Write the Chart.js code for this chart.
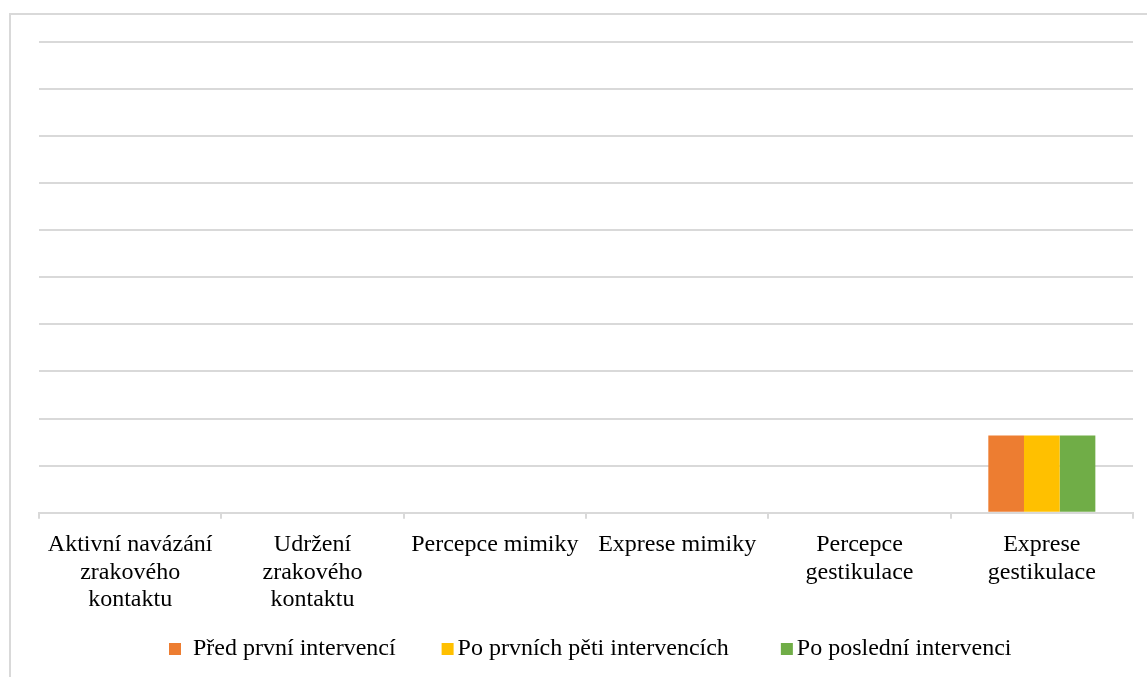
<!DOCTYPE html>
<html>
<head>
<meta charset="utf-8">
<script src="https://cdn.jsdelivr.net/npm/chart.js@4.4.1/dist/chart.umd.min.js"></script>
<style>
  html, body { margin: 0; padding: 0; background: #fff; }
  #wrap { width: 1147px; height: 677px; position: relative; }
</style>
</head>
<body>
<div id="wrap"><canvas id="c" width="1147" height="677"></canvas></div>
<script>
// Categories (multi-line labels)
const categories = [
  ['Aktivní navázání', 'zrakového', 'kontaktu'],
  ['Udržení', 'zrakového', 'kontaktu'],
  'Percepce mimiky',
  'Exprese mimiky',
  ['Percepce', 'gestikulace'],
  ['Exprese', 'gestikulace']
];

// Series names
const seriesNames = ['Před první intervencí', 'Po prvních pěti intervencích', 'Po poslední intervenci'];

// Series values
const beforeFirst = [0, 0, 0, 0, 0, 1.64];
const afterFirstFive = [0, 0, 0, 0, 0, 1.64];
const afterLast = [0, 0, 0, 0, 0, 1.64];

// Value axis
const yMax = 10;
const yStep = 1;

const colors = ['#ED7D31', '#FFC000', '#70AD47'];
const textFont = '"Liberation Serif", "Times New Roman", serif';

// Outer frame of the chart object
const framePlugin = {
  id: 'frame',
  beforeDraw(chart) {
    const ctx = chart.ctx;
    ctx.save();
    ctx.fillStyle = '#ffffff';
    ctx.fillRect(0, 0, chart.width, chart.height);
    ctx.strokeStyle = '#d9d9d9';
    ctx.lineWidth = 2;
    ctx.strokeRect(10, 14, chart.width + 50, chart.height + 50);
    ctx.restore();
  }
};

// Legend row under the axis labels
const legendPlugin = {
  id: 'legendRow',
  afterDraw(chart) {
    const ctx = chart.ctx;
    ctx.save();
    ctx.font = '24px ' + textFont;
    ctx.textBaseline = 'middle';
    const y = 649;
    const textGaps = [12, 4, 4];
    const itemGaps = [46, 52];
    let x = 169;
    chart.data.datasets.forEach((ds, i) => {
      ctx.fillStyle = ds.backgroundColor;
      ctx.fillRect(x, y - 6, 12, 12);
      const tx = x + 12 + textGaps[i];
      ctx.fillStyle = '#000';
      ctx.fillText(ds.label, tx, y);
      x = tx + ctx.measureText(ds.label).width + (itemGaps[i] || 0);
    });
    ctx.restore();
  }
};

new Chart(document.getElementById('c'), {
  type: 'bar',
  data: {
    labels: categories,
    datasets: [
      { label: seriesNames[0], data: beforeFirst, backgroundColor: colors[0] },
      { label: seriesNames[1], data: afterFirstFive, backgroundColor: colors[1] },
      { label: seriesNames[2], data: afterLast, backgroundColor: colors[2] }
    ]
  },
  options: {
    responsive: false,
    animation: false,
    events: [],
    layout: { padding: { left: 39, top: 42, right: 14, bottom: 51 } },
    datasets: {
      bar: { categoryPercentage: 0.587, barPercentage: 1, borderWidth: 0 }
    },
    plugins: {
      legend: { display: false },
      tooltip: { enabled: false }
    },
    scales: {
      x: {
        offset: true,
        grid: {
          offset: true,
          drawOnChartArea: false,
          drawTicks: true,
          tickLength: 6,
          color: '#d9d9d9',
          lineWidth: 2
        },
        border: { display: true, color: '#d9d9d9', width: 2 },
        ticks: {
          autoSkip: false,
          maxRotation: 0,
          minRotation: 0,
          padding: 13,
          color: '#000',
          font: { family: textFont, size: 24, lineHeight: 1.13 }
        }
      },
      y: {
        min: 0,
        max: yMax,
        ticks: { display: false, stepSize: yStep },
        border: { display: false },
        grid: { color: '#d9d9d9', lineWidth: 2, drawTicks: false }
      }
    }
  },
  plugins: [framePlugin, legendPlugin]
});
</script>
</body>
</html>
